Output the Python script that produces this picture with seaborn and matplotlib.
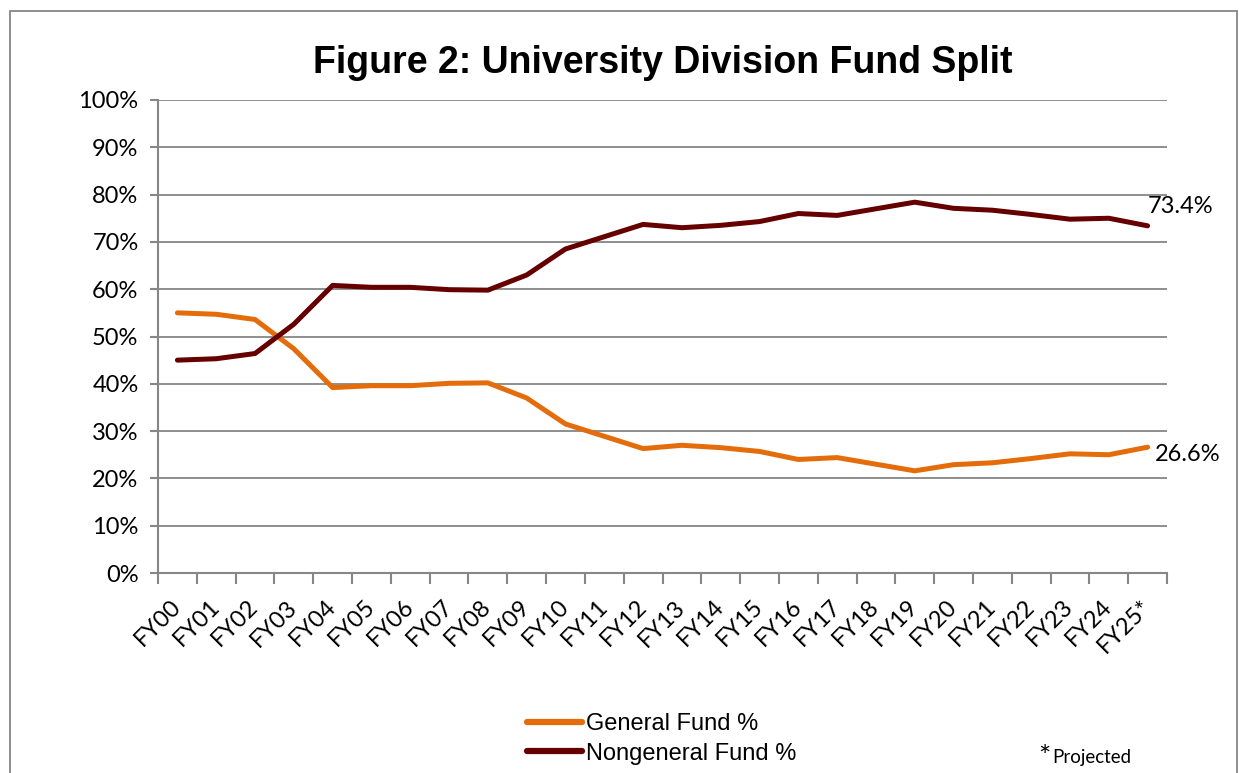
#plot.py recreates the University Division fund split line chart
import numpy as np
import pandas as pd
import matplotlib.pyplot as plt
import seaborn as sns
from matplotlib.patches import Rectangle
from matplotlib.ticker import FixedLocator, FuncFormatter

#Data (percent of total)
years = ["FY00", "FY01", "FY02", "FY03", "FY04", "FY05", "FY06", "FY07", "FY08",
         "FY09", "FY10", "FY11", "FY12", "FY13", "FY14", "FY15", "FY16", "FY17",
         "FY18", "FY19", "FY20", "FY21", "FY22", "FY23", "FY24", "FY25*"]
general = [55.0, 54.7, 53.6, 47.4, 39.2, 39.6, 39.6, 40.1, 40.2, 37.0, 31.5, 28.9, 26.3,
           27.0, 26.5, 25.7, 24.0, 24.4, 23.0, 21.6, 22.9, 23.3, 24.2, 25.2, 25.0, 26.6]
nongeneral = [45.0, 45.3, 46.4, 52.6, 60.8, 60.4, 60.4, 59.9, 59.8, 63.0, 68.5, 71.1, 73.7,
              73.0, 73.5, 74.3, 76.0, 75.6, 77.0, 78.4, 77.1, 76.7, 75.8, 74.8, 75.0, 73.4]
series_names = ["General Fund %", "Nongeneral Fund %"]
colours = {"General Fund %": "#E46C0A", "Nongeneral Fund %": "#660000"}

#long form table for seaborn
df = pd.DataFrame({
    "year": years * 2,
    "pct": general + nongeneral,
    "fund": [series_names[0]] * len(years) + [series_names[1]] * len(years),
})

sns.set_style("white")
plt.rcParams['font.family'] = ['Lato', 'DejaVu Sans']
plt.rcParams['text.color'] = 'black'
plt.rcParams['xtick.color'] = 'black'
plt.rcParams['ytick.color'] = 'black'

fig = plt.figure(figsize=(12.39, 7.73), dpi=100)
ax = fig.add_axes([158/1239, 1-573/773, (1167-158)/1239, (573-100)/773])

sns.lineplot(data=df, x="year", y="pct", hue="fund", palette=colours,
             linewidth=3.6, sort=False, ax=ax, legend=False)

#axes styling, Excel look
grid_col = "#868686"
ax.set_xlim(-0.5, len(years) - 0.5)
ax.set_ylim(0, 100)
ax.set_yticks(np.arange(0, 101, 10))
ax.yaxis.set_major_formatter(FuncFormatter(lambda v, p: f"{v:.0f}%"))
ax.grid(axis="y", color=grid_col, linewidth=1.3)
ax.set_axisbelow(True)
for s in ["top", "right"]:
    ax.spines[s].set_visible(False)
for s in ["left", "bottom"]:
    ax.spines[s].set_color(grid_col)
    ax.spines[s].set_linewidth(1.5)
    ax.spines[s].set_zorder(0.5)

ax.set_xticks(range(len(years)))
ax.set_xticklabels(years)
ax.xaxis.set_minor_locator(FixedLocator(np.arange(-0.5, len(years), 1)))
ax.tick_params(axis="x", which="major", length=0, pad=22, labelsize=17, labelcolor="black")
ax.tick_params(axis="x", which="minor", bottom=True, length=8, width=1.5,
               color=grid_col, direction="out")
ax.tick_params(axis="y", which="major", left=True, length=6, width=1.5, color=grid_col,
               direction="out", labelsize=17, pad=8, labelcolor="black")
for lab in ax.get_xticklabels():
    lab.set_rotation(45)
    lab.set_ha("right")
    lab.set_va("center")
    lab.set_rotation_mode("anchor")
ax.set_xlabel("")
ax.set_ylabel("")

#end of line data labels
ax.annotate(f"{nongeneral[-1]:.1f}%", (len(years) - 1, nongeneral[-1]), xytext=(0, 14),
            textcoords="offset points", ha="left", va="center", fontsize=17)
ax.annotate(f"{general[-1]:.1f}%", (len(years) - 1, general[-1]), xytext=(5, -5),
            textcoords="offset points", ha="left", va="center", fontsize=17)

#title
fig.text((158+1167)/2/1239, 1-63/773, "Figure 2: University Division Fund Split",
         ha="center", va="center", fontsize=27, fontweight="bold",
         family=["Liberation Sans", "DejaVu Sans"])

#legend at the bottom
handles = [plt.Line2D([], [], color=colours[n], linewidth=4.5) for n in series_names]
fig.legend(handles, series_names, loc="upper left", bbox_to_anchor=(527/1239, 1-713/773),
           frameon=False, borderpad=0, borderaxespad=0, handlelength=2.35,
           handletextpad=0.15, labelspacing=0.32,
           prop={"family": ["Liberation Sans", "DejaVu Sans"], "size": 17})

#projected note
fig.text(1038/1239, 1-766/773, "*", fontsize=21, ha="left", va="baseline")
fig.text(1052/1239, 1-763/773, "Projected", fontsize=13.5, ha="left", va="baseline")

#chart border
fig.patches.append(Rectangle((10/1239, -0.02), 1227/1239, 1.02 - 11/773,
                             transform=fig.transFigure, fill=False,
                             edgecolor=grid_col, linewidth=1.3))

plt.savefig("out.png", dpi=100)
